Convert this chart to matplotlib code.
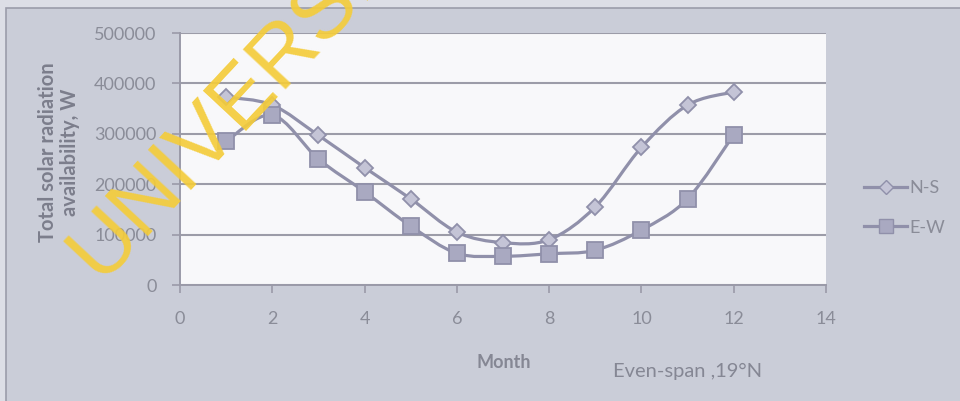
import matplotlib
matplotlib.use("Agg")
import matplotlib.pyplot as plt
from matplotlib.path import Path
from matplotlib.patches import PathPatch, Rectangle
from matplotlib.lines import Line2D
import numpy as np

months = [1, 2, 3, 4, 5, 6, 7, 8, 9, 10, 11, 12]
ns_values = [373000, 357000, 297000, 233000, 171000, 105000, 84000, 90000, 155000, 273000, 357000, 383000]
ew_values = [285000, 337000, 250000, 185000, 117000, 63000, 57000, 62000, 69000, 109000, 171000, 298000]
series_names = ["N-S", "E-W"]
x_ticks = [0, 2, 4, 6, 8, 10, 12, 14]
y_ticks = [0, 100000, 200000, 300000, 400000, 500000]

LINE = "#9090aa"
TXT = "#8a8c98"
plt.rcParams['font.family'] = ['Lato', 'DejaVu Sans']

fig = plt.figure(figsize=(9.6, 4.01), dpi=100, facecolor="#dcdee6")
# chart area background with border
fig.patches.append(Rectangle((6/960, -0.01), 1, 1.01 - 8/401, transform=fig.transFigure,
                             facecolor="#cacdd8", edgecolor="#9a9caa", linewidth=1.2, zorder=-5))

ax = fig.add_axes([180/960, 1 - 285/401, (826 - 180)/960, (285 - 33)/401])
ax.set_zorder(1)
ax.set_facecolor("#f8f8fa")
ax.set_xlim(0, 14)
ax.set_ylim(0, 500000)
ax.set_xticks(x_ticks)
ax.set_yticks(y_ticks)
ax.set_xticklabels([str(t) for t in x_ticks])
ax.set_yticklabels([str(t) for t in y_ticks])
ax.tick_params(axis='both', colors="#9a9aa8", labelcolor=TXT, labelsize=13, length=6, width=1.2)
ax.tick_params(axis='x', pad=13)
ax.tick_params(axis='y', pad=11)
for s in ['top', 'right']:
    ax.spines[s].set_visible(False)
for s in ['left', 'bottom']:
    ax.spines[s].set_color("#9a9aa8")
    ax.spines[s].set_linewidth(1.4)
ax.yaxis.grid(True, color="#9c9ca8", linewidth=1.5)
ax.set_axisbelow(True)


def smooth_path(xs, ys):
    xs = np.asarray(xs, float)
    ys = np.asarray(ys, float)
    verts = [(xs[0], ys[0])]
    codes = [Path.MOVETO]
    n = len(xs)
    for i in range(n - 1):
        p0 = (xs[max(i - 1, 0)], ys[max(i - 1, 0)])
        p1 = (xs[i], ys[i])
        p2 = (xs[i + 1], ys[i + 1])
        p3 = (xs[min(i + 2, n - 1)], ys[min(i + 2, n - 1)])
        c1 = (p1[0] + (p2[0] - p0[0]) / 6, p1[1] + (p2[1] - p0[1]) / 6)
        c2 = (p2[0] - (p3[0] - p1[0]) / 6, p2[1] - (p3[1] - p1[1]) / 6)
        verts += [c1, c2, p2]
        codes += [Path.CURVE4] * 3
    return Path(verts, codes)


for vals in (ns_values, ew_values):
    ax.add_patch(PathPatch(smooth_path(months, vals), facecolor='none', edgecolor=LINE,
                           linewidth=2.3, zorder=3))

ax.plot(months, ns_values, linestyle='none', marker='D', markersize=8,
        markerfacecolor="#c4c4d6", markeredgecolor=LINE, markeredgewidth=1.3, zorder=4)
ax.plot(months, ew_values, linestyle='none', marker='s', markersize=12,
        markerfacecolor="#a9a9c1", markeredgecolor=LINE, markeredgewidth=1.3, zorder=4)

handles = [
    Line2D([], [], color=LINE, linewidth=2.3, marker='D', markersize=7,
           markerfacecolor="#c4c4d6", markeredgecolor=LINE),
    Line2D([], [], color=LINE, linewidth=2.3, marker='s', markersize=10,
           markerfacecolor="#a9a9c1", markeredgecolor=LINE),
]
fig.legend(handles, series_names, loc='center left', bbox_to_anchor=(864/960, 1 - 208/401),
           frameon=False, fontsize=13, labelcolor=TXT, handlelength=2.4,
           handletextpad=0.1, labelspacing=1.3, borderpad=0, borderaxespad=0)

fig.text(59/960, 1 - 152/401, "Total solar radiation\navailability, W", rotation=90,
         ha='center', va='center', fontsize=14.5, fontweight='bold', color="#7c7e8c",
         linespacing=1.15)
fig.text(504/960, 1 - 363/401, "Month", ha='center', va='center', fontsize=13,
         fontweight='bold', color="#858794")
fig.text(688/960, 1 - 371/401, "Even-span ,19°N", ha='center', va='center', fontsize=14.5,
         color="#858794")

# watermark
fig.text(100/960, 1 - 281/401, "UNIVERSITY", rotation=47, rotation_mode='anchor',
         ha='left', va='baseline', fontsize=62, color="#f4cc3a", alpha=0.92,
         family=['Liberation Sans', 'DejaVu Sans'], zorder=10)

fig.savefig("out.png", dpi=100, facecolor=fig.get_facecolor())
